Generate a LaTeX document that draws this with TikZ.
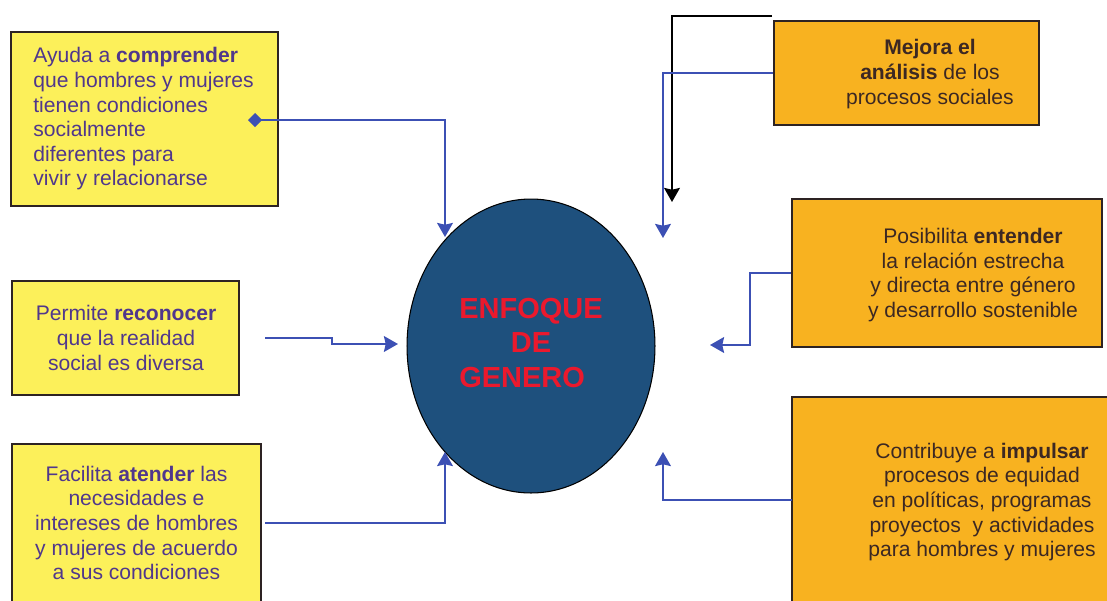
\documentclass[tikz,border=0pt]{standalone}
\usepackage{fontspec}
\setmainfont{Liberation Sans}
\usepackage{tikz}
\usetikzlibrary{arrows.meta,shapes.geometric}

\definecolor{boxYellow}{RGB}{252,240,90}
\definecolor{boxOrange}{RGB}{248,178,32}
\definecolor{boxBorder}{RGB}{45,35,35}
\definecolor{txtPurple}{RGB}{80,55,140}
\definecolor{txtBrown}{RGB}{60,40,35}
\definecolor{ellipseBlue}{RGB}{30,80,125}
\definecolor{enfoqueRed}{RGB}{235,25,45}
\definecolor{lineBlue}{RGB}{60,80,180}

\begin{document}
\begin{tikzpicture}[
		x=0.02cm, y=-0.02cm,
		every node/.style={font=\fontsize{12}{14}\selectfont},
		link/.style={line width=1.1pt, draw=lineBlue},
		]
		\tikzset{
			yellowBox/.style={rectangle, draw=boxBorder, line width=1.1pt, fill=boxYellow},
			orangeBox/.style={rectangle, draw=boxBorder, line width=1.1pt, fill=boxOrange},
			yellowText/.style={text=txtPurple, inner sep=0pt},
			orangeText/.style={text=txtBrown, align=center, inner sep=0pt},
			arrowLink/.style={-{Stealth[length=8pt,width=9pt,inset=1pt]}},
			diamondLink/.style={{Diamond[length=8pt,width=8pt]}-{Stealth[length=8pt,width=9pt,inset=1pt]}},
		}
		\useasboundingbox (0,0) rectangle (1107,600);
		\clip (0,0) rectangle (1107,600);
		
		\node[yellowBox, minimum width=5.34cm, minimum height=3.48cm] (comprender) at (144.5,119) {};
		\node[yellowText, anchor=west, align=left] (comprenderText) at (33,119)
		{Ayuda a \textbf{comprender}\\que hombres y mujeres\\tienen condiciones\\socialmente\\diferentes para\\vivir y relacionarse};
		
		\node[yellowBox, minimum width=4.54cm, minimum height=2.28cm] (reconocer) at (125.5,338) {};
		\node[yellowText, align=center] (reconocerText) at (126,338)
		{Permite \textbf{reconocer}\\que la realidad\\social es diversa};
		
		\node[yellowBox, minimum width=4.98cm, minimum height=3.92cm] (atender) at (136.5,542) {};
		\node[yellowText, align=center] (atenderText) at (136.5,523)
		{Facilita \textbf{atender} las\\necesidades e\\intereses de hombres\\y mujeres de acuerdo\\a sus condiciones};
		
		\node[orangeBox, minimum width=5.3cm, minimum height=2.08cm] (analisis) at (906.5,73) {};
		\node[orangeText] (analisisText) at (930,74)
		{\textbf{Mejora el}\\\textbf{análisis} de los\\procesos sociales};
		
		\node[orangeBox, minimum width=6.2cm, minimum height=2.96cm] (entender) at (947,273) {};
		\node[orangeText] (entenderText) at (973,275)
		{Posibilita \textbf{entender}\\la relación estrecha\\y directa entre género\\y desarrollo sostenible};
		
		\node[orangeBox, minimum width=6.56cm, minimum height=4.86cm] (impulsar) at (956,518) {};
		\node[orangeText] (impulsarText) at (982,502)
		{Contribuye a \textbf{impulsar}\\procesos de equidad\\en políticas, programas\\proyectos\ \ y actividades\\para hombres y mujeres};
		
		\node[ellipse, draw=black, line width=0.6pt, fill=ellipseBlue, inner sep=0pt,
		minimum width=4.96cm, minimum height=5.88cm, text=enfoqueRed,
		font=\fontsize{16.5}{19.5}\selectfont\bfseries] (enfoque) at (531,346)
		{\begin{tabular}{@{}l@{}}ENFOQUE\\\multicolumn{1}{@{}c@{}}{DE}\\GENERO\end{tabular}};
		
		\coordinate (dotStart) at (248,120);
		\coordinate (topLeftIn) at (445,237);
		\coordinate (reconocerOut) at (265,338);
		\coordinate (leftIn) at (398,344);
		\coordinate (atenderOut) at (265,523);
		\coordinate (bottomLeftIn) at (445,452);
		\coordinate (blackStart) at (772,16);
		\coordinate (blackEnd) at (672,202);
		\coordinate (topRightIn) at (663,238);
		\coordinate (rightIn) at (710,345);
		\coordinate (impulsarOut) at (792,500);
		\coordinate (bottomRightIn) at (663,452);
		
		\draw[link, diamondLink] (dotStart) -| (topLeftIn);
		\draw[link, arrowLink] (reconocerOut) -- ++(67,0) |- (leftIn);
		\draw[link, arrowLink] (atenderOut) -| (bottomLeftIn);
		\draw[line width=1.1pt, draw=black, arrowLink] (blackStart) -| (blackEnd);
		\draw[link, arrowLink] (analisis.west) -| (topRightIn);
		\draw[link, arrowLink] (entender.west) -- ++(-41,0) |- (rightIn);
		\draw[link, arrowLink] (impulsarOut) -| (bottomRightIn);
	\end{tikzpicture}
\end{document}
